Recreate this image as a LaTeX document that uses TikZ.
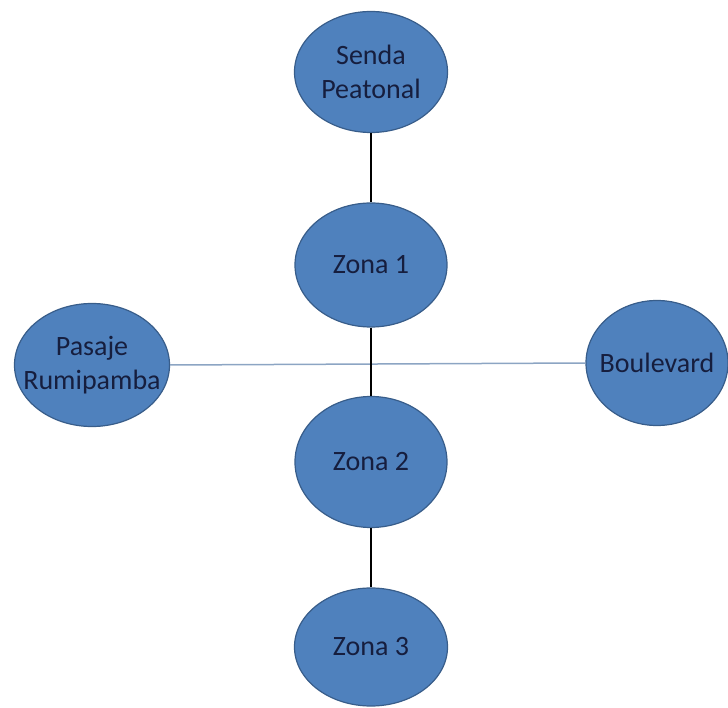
\documentclass[tikz,border=0pt]{standalone}
\usepackage{fontspec}
\setmainfont{Carlito}
\usetikzlibrary{shapes.geometric}
\definecolor{ellfill}{RGB}{79,129,189}
\definecolor{ellborder}{RGB}{56,93,138}
\definecolor{txtcol}{RGB}{22,30,62}
\definecolor{hline}{RGB}{140,165,195}
\tikzset{
  zone/.style={ellipse, draw=ellborder, fill=ellfill, line width=1.2pt, inner xsep=-40pt, inner ysep=0pt,
    align=center, text=txtcol, font=\fontsize{28}{34}\selectfont},
  vlink/.style={draw=black, line width=2pt},
  hlink/.style={draw=hline, line width=1.5pt}
}
\begin{document}
\begin{tikzpicture}[x=1pt,y=-1pt]
\useasboundingbox (0,0) rectangle (728,708);
\node[zone, minimum width=153pt, minimum height=121pt] (senda) at (371,72) {Senda\\Peatonal};
\node[zone, minimum width=152pt, minimum height=124pt] (z1) at (371,265) {Zona 1};
\node[zone, minimum width=155pt, minimum height=123pt] (pasaje) at (92,365) {Pasaje\\Rumipamba};
\node[zone, minimum width=142pt, minimum height=125pt] (boul) at (657,363) {Boulevard};
\node[zone, minimum width=152pt, minimum height=131pt] (z2) at (371,462) {Zona 2};
\node[zone, minimum width=153pt, minimum height=118pt] (z3) at (371,647) {Zona 3};
\draw[hlink] (pasaje.east) -- (boul.west);
\draw[vlink] (senda.south) -- (z1.north);
\draw[vlink] (z1.south) -- (z2.north);
\draw[vlink] (z2.south) -- (z3.north);
\end{tikzpicture}
\end{document}
